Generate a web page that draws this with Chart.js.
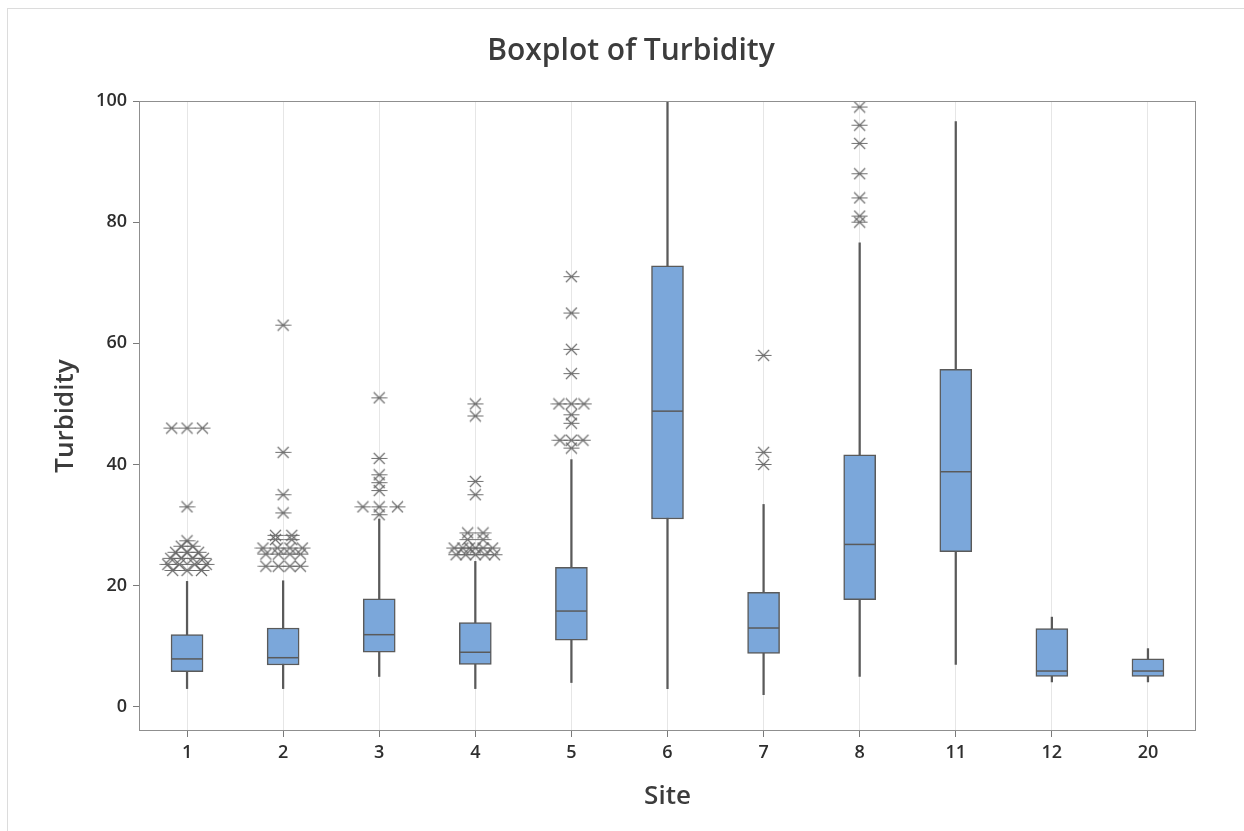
<!DOCTYPE html>
<html>
<head>
<meta charset="utf-8">
<script src="https://cdn.jsdelivr.net/npm/chart.js@4.4.0/dist/chart.umd.min.js"></script>
<style>
  html, body { margin: 0; padding: 0; background: #fff; }
  #wrap { width: 1244px; height: 831px; }
</style>
</head>
<body>
<div id="wrap"><canvas id="boxChart" width="1244" height="831"></canvas></div>
<script>
// site labels on the x axis
const sites = ['1', '2', '3', '4', '5', '6', '7', '8', '11', '12', '20'];

// box summary per site
const whiskerLow  = [3, 3, 5, 3, 4, 3, 2, 5, 7, 4.1, 4.1];
const q1          = [5.8, 6.9, 9, 7, 11, 31, 8.8, 17.7, 25.6, 5, 5];
const medians     = [7.9, 8.1, 11.9, 9, 15.8, 48.8, 13, 26.8, 38.8, 5.9, 5.9];
const q3          = [11.9, 13, 17.8, 13.9, 23, 72.8, 18.9, 41.6, 55.7, 12.9, 7.9];
const whiskerHigh = [20.7, 20.8, 31, 24, 40.8, 100, 33.4, 76.6, 96.6, 14.8, 9.6];

// outliers per site, with the small sideways shift used for ties
const outlierValues = [
  [46, 46, 46, 33, 27.4, 26.5, 26.5, 25.5, 25.5, 25.5, 24.5, 24.5, 24.5, 24.5, 23.5, 23.5, 23.5, 23.5, 22.5, 22.5, 22.5],
  [63, 42, 35, 32, 28.3, 28.3, 27.6, 27.6, 26.2, 26.2, 26.2, 26.2, 25.2, 25.2, 25.2, 25.2, 23.2, 23.2, 23.2, 23.2],
  [51, 41, 38.3, 37, 35.7, 33, 33, 33, 31.7],
  [50, 48, 37.2, 35, 28.7, 28.7, 27.6, 27.6, 26.2, 26.2, 26.2, 26.2, 26.2, 26.2, 25.1, 25.1, 25.1, 25.1, 25.1],
  [71, 65, 59, 55, 50, 50, 50, 48.2, 46.8, 44, 44, 44, 42.7],
  [],
  [58, 42, 40],
  [99, 96, 93, 88, 84, 81, 80],
  [],
  [],
  []
];
const outlierShifts = [
  [-0.16, 0, 0.16, 0, 0, -0.06, 0.06, -0.12, 0, 0.12, -0.17, -0.06, 0.06, 0.17, -0.2, -0.08, 0.08, 0.2, -0.15, 0, 0.15],
  [0, 0, 0, 0, -0.08, 0.09, -0.08, 0.09, -0.21, -0.06, 0.07, 0.2, -0.18, -0.05, 0.07, 0.18, -0.18, -0.05, 0.07, 0.18],
  [0, 0, 0, 0, 0, -0.17, 0, 0.19, 0],
  [0, 0, 0, 0, -0.08, 0.08, -0.08, 0.08, -0.22, -0.13, -0.06, 0, 0.08, 0.18, -0.2, -0.1, 0, 0.1, 0.2],
  [0, 0, 0, 0, -0.13, 0, 0.13, 0, 0, -0.12, 0, 0.12, 0],
  [],
  [0, 0, 0],
  [0, 0, 0, 0, 0, 0, 0],
  [],
  [],
  []
];

const yTicks = [0, 20, 40, 60, 80, 100];

const boxFill = '#7ba7da';
const lineGrey = '#5a5a5a';
const fontFamily = '"Open Sans", "Noto Sans", sans-serif';

// asterisk marker like minitab's (horizontal bar + x)
function makeStar() {
  const c = document.createElement('canvas');
  c.width = 17; c.height = 13;
  const g = c.getContext('2d');
  g.strokeStyle = 'rgba(95,95,95,0.9)';
  g.lineWidth = 1.2;
  g.beginPath();
  g.moveTo(0.5, 6.5); g.lineTo(16.5, 6.5);
  g.moveTo(3, 1); g.lineTo(14, 12);
  g.moveTo(3, 12); g.lineTo(14, 1);
  g.stroke();
  return c;
}

const outlierPoints = [];
outlierValues.forEach((vals, i) => {
  vals.forEach((v, j) => outlierPoints.push({ x: i + outlierShifts[i][j], y: v }));
});

const framePlugin = {
  id: 'frame',
  beforeDraw(chart) {
    const ctx = chart.ctx;
    ctx.save();
    ctx.fillStyle = '#fff';
    ctx.fillRect(0, 0, chart.width, chart.height);
    ctx.strokeStyle = '#dcdcdc';
    ctx.lineWidth = 1;
    ctx.strokeRect(7.5, 8.5, chart.width, chart.height);
    ctx.restore();
  },
  afterDraw(chart) {
    const a = chart.chartArea;
    const ctx = chart.ctx;
    ctx.save();
    ctx.strokeStyle = '#8f8f8f';
    ctx.lineWidth = 1;
    ctx.strokeRect(Math.round(a.left) + 0.5, Math.round(a.top) + 0.5,
      Math.round(a.right - a.left) - 1, Math.round(a.bottom - a.top) - 1);
    ctx.restore();
  }
};

function createBoxplot() {
  const ctx = document.getElementById('boxChart').getContext('2d');

  const data = {
    labels: sites,
    datasets: [
      {
        type: 'scatter',
        label: 'Outliers',
        data: outlierPoints,
        xAxisID: 'x2',
        pointStyle: makeStar(),
        pointRadius: 6,
        order: 0
      },
      {
        type: 'line',
        label: 'Median',
        data: medians,
        showLine: false,
        pointStyle: 'line',
        pointRadius: 15.5,
        pointBorderWidth: 1.5,
        pointBorderColor: lineGrey,
        order: 1
      },
      {
        label: 'IQR',
        data: q1.map((v, i) => [v, q3[i]]),
        backgroundColor: boxFill,
        borderColor: lineGrey,
        borderWidth: 1.5,
        borderSkipped: false,
        barThickness: 32,
        grouped: false,
        order: 2
      },
      {
        label: 'Whisker',
        data: whiskerLow.map((v, i) => [v, whiskerHigh[i]]),
        backgroundColor: lineGrey,
        borderWidth: 0,
        barThickness: 1.6,
        grouped: false,
        order: 3
      }
    ]
  };

  const config = {
    type: 'bar',
    data: data,
    options: {
      responsive: false,
      animation: false,
      layout: { padding: { left: 18, right: 0, top: 0, bottom: 0 } },
      plugins: {
        legend: { display: false },
        tooltip: { enabled: false },
        title: {
          display: true,
          text: 'Boxplot of Turbidity',
          color: '#3c3c3c',
          font: { family: fontFamily, size: 30, weight: '600' },
          padding: { top: 33, bottom: 32 }
        }
      },
      scales: {
        x: {
          type: 'category',
          offset: true,
          border: { display: false },
          grid: {
            offset: false,
            color: '#e6e6e6',
            lineWidth: 1,
            tickColor: '#7a7a7a',
            tickLength: 6
          },
          ticks: {
            color: '#2e2e2e',
            padding: 5,
            font: { family: fontFamily, size: 18, weight: '600' }
          },
          title: {
            display: true,
            text: 'Site',
            color: '#3c3c3c',
            font: { family: fontFamily, size: 26, weight: '600' },
            padding: { top: 0, bottom: 19 }
          },
          afterFit(scale) { scale.height = 100; }
        },
        x2: {
          type: 'linear',
          display: false,
          offset: false,
          min: -0.5,
          max: 10.5
        },
        y: {
          min: -4,
          max: 100,
          border: { display: false },
          grid: {
            drawOnChartArea: false,
            tickColor: '#7a7a7a',
            tickLength: 6
          },
          afterBuildTicks(scale) {
            scale.ticks = yTicks.map(v => ({ value: v }));
          },
          ticks: {
            color: '#2e2e2e',
            padding: 6,
            font: { family: fontFamily, size: 18, weight: '600' }
          },
          title: {
            display: true,
            text: 'Turbidity',
            color: '#3c3c3c',
            font: { family: fontFamily, size: 26, weight: '600' },
            padding: { top: 32, bottom: 0 }
          },
          afterFit(scale) { scale.width = 121; }
        },
        yRight: {
          position: 'right',
          min: -4,
          max: 100,
          border: { display: false },
          grid: { display: false },
          ticks: { display: false },
          afterFit(scale) { scale.width = 48; }
        }
      }
    },
    plugins: [framePlugin]
  };

  const boxChart = new Chart(ctx, config);
}

createBoxplot();
</script>
</body>
</html>
